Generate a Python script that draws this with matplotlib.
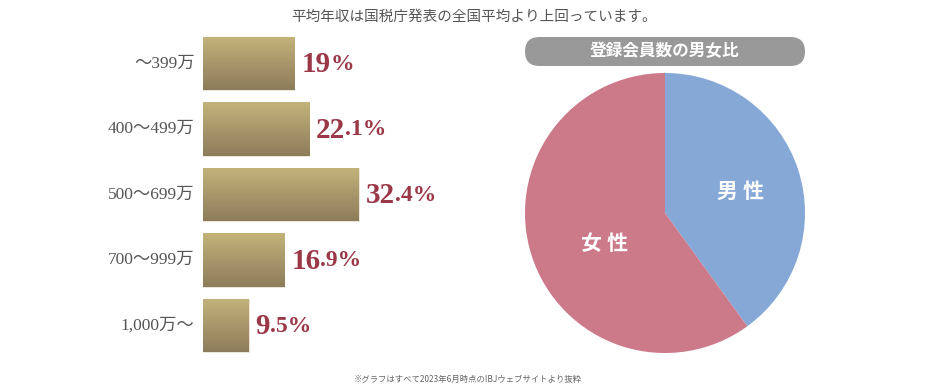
import numpy as np
import matplotlib
matplotlib.use('Agg')
import matplotlib.pyplot as plt
from matplotlib.patches import FancyBboxPatch
from matplotlib.colors import LinearSegmentedColormap

plt.rcParams['font.family'] = ['Liberation Serif', 'Noto Sans CJK JP', 'DejaVu Sans']

# データ
income_labels = ['～399万', '400～499万', '500～699万', '700～999万', '1,000万～']
income_share = [19, 22.1, 32.4, 16.9, 9.5]
gender_labels = ['男 性', '女 性']
gender_share = [40, 60]

title_text = '平均年収は国税庁発表の全国平均より上回っています。'
pie_title = '登録会員数の男女比'
note_text = '※グラフはすべて2023年6月時点のIBJウェブサイトより抜粋'

W, H = 948, 391
fig = plt.figure(figsize=(W / 100, H / 100), dpi=100)
fig.patch.set_facecolor('white')

# 棒グラフ（横）
ax = fig.add_axes([203 / W, (H - 358.25) / H, 300 / W, 327.5 / H])
ax.axis('off')

bars = ax.barh(range(len(income_share)), income_share, height=0.81,
               color='none', edgecolor='#e8e2d2', linewidth=0.6)
grad = LinearSegmentedColormap.from_list('gold', ['#c3b37a', '#8d7c5b'])
g = np.linspace(0, 1, 100).reshape(-1, 1)
for b in bars:
    x0, y0 = b.get_x(), b.get_y()
    im = ax.imshow(g, cmap=grad, aspect='auto', interpolation='bicubic',
                   extent=[x0, x0 + b.get_width(), y0 + b.get_height(), y0],
                   zorder=1)
    im.set_clip_path(b)
ax.set_xlim(0, 300 / 4.81)
ax.set_ylim(4.5, -0.5)

for i, (lab, v) in enumerate(zip(income_labels, income_share)):
    ax.annotate(lab, xy=(0, i), xytext=(-6, 0), textcoords='offset points',
                ha='right', va='center', fontsize=12.5, color='#555555')
    s = f'{v:g}'
    big = s.split('.')[0]
    small = s[len(big):] + '%'
    t = ax.annotate(big, xy=(v, i), xytext=(5, -1), textcoords='offset points',
                    ha='left', va='center', fontsize=21, color='#9a3848',
                    fontweight='bold')
    ax.annotate(small, xy=(1, 0.14), xycoords=t, ha='left', va='bottom',
                fontsize=17, color='#9a3848', fontweight='bold')

# 円グラフ
axp = fig.add_axes([525 / W, 38 / H, 280 / W, 280 / H])
axp.pie(gender_share, colors=['#85a8d7', '#cc798a'], startangle=90,
        counterclock=False, radius=1,
        wedgeprops=dict(linewidth=0))
axp.set_xlim(-1, 1)
axp.set_ylim(-1, 1)
axp.text(0.54, 0.14, gender_labels[0], ha='center', va='center',
         fontsize=15, color='white', fontweight='bold')
axp.text(-0.43, -0.23, gender_labels[1], ha='center', va='center',
         fontsize=15, color='white', fontweight='bold')

# 円グラフのタイトル
axb = fig.add_axes([525 / W, (H - 66) / H, 280 / W, 29 / H])
axb.set_xlim(0, 280)
axb.set_ylim(0, 29)
axb.axis('off')
axb.add_patch(FancyBboxPatch((0, 0), 280, 29,
                             boxstyle='round,pad=0,rounding_size=14.5',
                             facecolor='#999999', edgecolor='none'))
axb.text(140, 14.5, pie_title, ha='center', va='center', fontsize=12,
         color='white', fontweight='bold')

fig.text(474 / W, 1 - 17 / H, title_text, ha='center', va='center',
         fontsize=10.5, color='#555555')
fig.text(468 / W, 1 - 379 / H, note_text, ha='center', va='center',
         fontsize=6, color='#666666', family=['Noto Sans CJK JP', 'DejaVu Sans'])

fig.savefig('out.png', dpi=100, facecolor='white')
